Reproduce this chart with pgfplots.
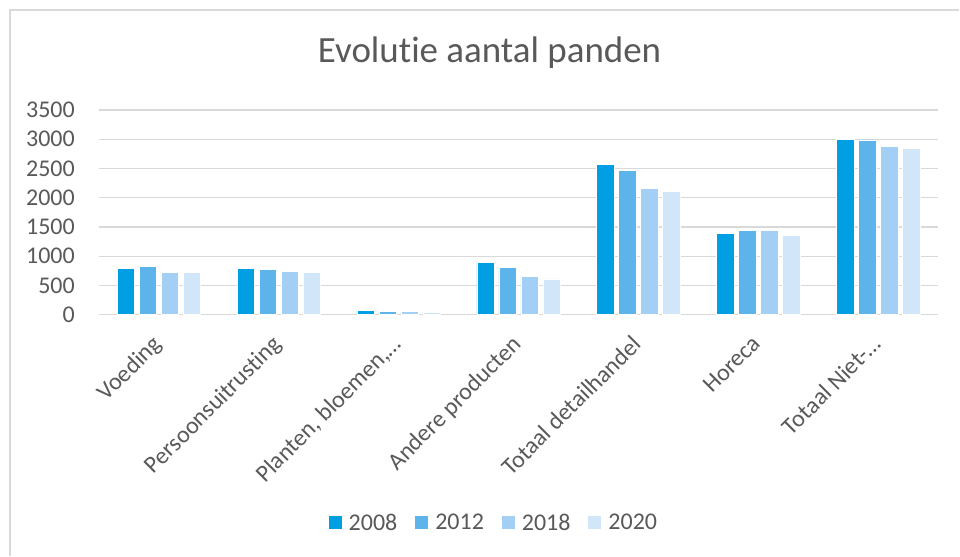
\documentclass[border=0pt]{standalone}
\usepackage{fontspec}
\setmainfont{Carlito}[Ligatures={NoCommon}]
\usepackage{pgfplots}
\pgfplotsset{compat=1.18}
\definecolor{cA}{HTML}{009FE3}
\definecolor{cB}{HTML}{5DB4EA}
\definecolor{cC}{HTML}{A2CFF3}
\definecolor{cD}{HTML}{D1E7F9}
\definecolor{txt}{HTML}{595959}
\definecolor{grd}{HTML}{D9D9D9}
\pgfplotsset{myleg/.style={legend image code/.code={\fill[##1,draw=none] (0pt,-6.5pt) rectangle (13pt,6.5pt);}}}
\begin{document}
\begin{tikzpicture}
\path[fill=white] (0,0) rectangle (960pt,556pt);
\draw[grd,line width=1.5pt] (10pt,0) -- (10pt,546pt) -- (960pt,546pt);
\node[txt,font=\fontsize{37}{44}\selectfont,anchor=base] at (490pt,493pt) {Evolutie aantal panden};
\begin{axis}[
  at={(99pt,241pt)}, anchor=south west,
  scale only axis, width=840pt, height=205pt,
  ybar=4.5pt, bar width=17.5pt,
  xmin=-0.5, xmax=6.5, ymin=0, ymax=3500,
  ytick={0,500,...,3500},
  xtick=data,
  xticklabels={Voeding,Persoonsuitrusting,{Planten, bloemen,\dots},Andere producten,Totaal detailhandel,Horeca,Totaal Niet-\dots},
  axis line style={draw=none},
  major tick length=0pt,
  ymajorgrids, grid style={grd,line width=1.2pt},
  tick label style={txt,font=\fontsize{24}{28}\selectfont,inner sep=0pt},
  /pgf/number format/assume math mode=true,
  /pgf/number format/1000 sep={},
  yticklabel style={anchor=east,xshift=-24pt},
  xticklabel style={rotate=45,anchor=north east,yshift=-8pt,xshift=-19pt},
  legend style={at={(0.47,-1.015)},anchor=center,draw=none,fill=none,
    legend columns=4,font=\fontsize{24}{28}\selectfont,text=txt,
    nodes={inner sep=1pt},
    /tikz/every odd column/.append style={column sep=6pt},
    /tikz/every even column/.append style={column sep=17pt}},
]
\addplot[fill=cA,draw=white,line width=0.6pt,myleg] coordinates {(0,798) (1,798) (2,73) (3,888) (4,2569) (5,1387) (6,2998)};
\addplot[fill=cB,draw=white,line width=0.6pt,myleg] coordinates {(0,827) (1,769) (2,62) (3,803) (4,2467) (5,1443) (6,2988)};
\addplot[fill=cC,draw=white,line width=0.6pt,myleg] coordinates {(0,730) (1,735) (2,51) (3,650) (4,2156) (5,1443) (6,2881)};
\addplot[fill=cD,draw=white,line width=0.6pt,myleg] coordinates {(0,718) (1,730) (2,39) (3,611) (4,2111) (5,1358) (6,2847)};
\legend{2008,2012,2018,2020}
\end{axis}
\end{tikzpicture}
\end{document}
